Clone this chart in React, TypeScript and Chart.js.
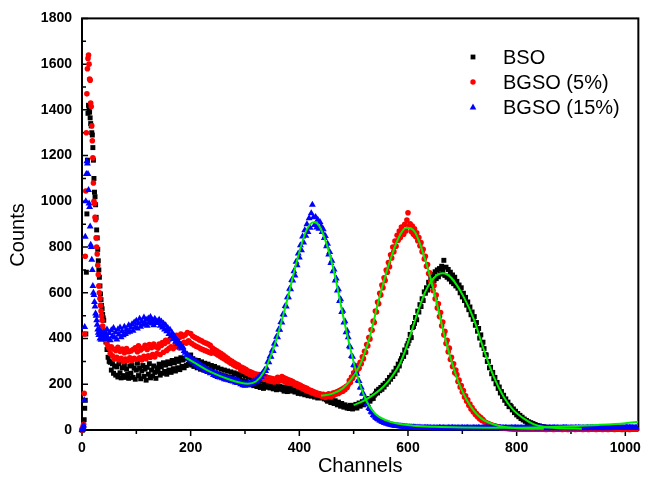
import React, { useEffect, useRef } from "react";
import { Chart, registerables } from "chart.js";

Chart.register(...registerables);

// ---- channel grid (x categories): channels 0..39 one by one, then every 2 channels 40..1020
const EARLY_CHANNELS: number[] = Array.from({ length: 40 }, (_, i) => i);
const MAIN_CHANNELS: number[] = Array.from({ length: 491 }, (_, i) => 40 + 2 * i);
const CHANNELS: number[] = [...EARLY_CHANNELS, ...MAIN_CHANNELS];

// ---- BSO counts (black squares)
const BSO_COUNTS: number[] = [
  // ch 0..39
  0, 0, 3, 10, 45, 95, 130, 420, 690, 945,
  1180, 1385, 1420, 1405, 1390, 1365, 1340, 1330, 1300, 1290,
  1235, 1180, 1100, 1040, 1020, 985, 930, 875, 840, 790,
  740, 700, 668, 630, 595, 570, 545, 530, 505, 490,
  // ch 40..88
  480, 435, 385, 352, 318, 300, 296, 262, 290, 248, 280, 240, 276, 232, 290, 250, 228, 272, 238, 284, 230, 266, 244, 226, 280,
  // ch 90..138
  248, 284, 230, 270, 222, 262, 292, 238, 270, 224, 258, 282, 234, 266, 218, 274, 244, 290, 228, 262, 236, 280, 252, 226, 272,
  // ch 140..188
  256, 288, 240, 276, 248, 294, 256, 284, 244, 298, 262, 290, 252, 304, 268, 294, 258, 310, 272, 300, 264, 316, 278, 306, 272,
  // ch 190..238
  314, 282, 322, 288, 308, 328, 284, 312, 278, 306, 288, 272, 304, 278, 266, 298, 274, 262, 292, 268, 256, 288, 264, 252, 282,
  // ch 240..288
  270, 246, 278, 250, 238, 272, 244, 234, 266, 240, 230, 262, 236, 226, 258, 232, 222, 254, 230, 218, 250, 224, 246, 216, 242,
  // ch 290..338
  234, 212, 242, 216, 208, 236, 212, 202, 232, 206, 198, 228, 202, 194, 222, 200, 190, 218, 194, 186, 214, 192, 182, 210, 188,
  // ch 340..388
  200, 188, 196, 184, 202, 190, 180, 196, 186, 176, 194, 182, 190, 178, 188, 176, 170, 186, 178, 168, 184, 174, 186, 170, 180,
  // ch 390..438
  176, 166, 182, 170, 160, 176, 168, 158, 172, 162, 154, 170, 160, 150, 166, 156, 148, 162, 152, 144, 158, 150, 140, 154, 146,
  // ch 440..488
  150, 140, 146, 136, 144, 132, 126, 140, 128, 120, 134, 122, 116, 128, 118, 110, 122, 112, 104, 116, 108, 100, 110, 102, 96,
  // ch 490..538
  104, 94, 108, 98, 92, 106, 100, 112, 96, 108, 118, 104, 114, 124, 110, 122, 132, 118, 128, 138, 126, 136, 148, 138, 152,
  // ch 540..588
  158, 170, 162, 178, 172, 186, 178, 196, 188, 204, 200, 216, 210, 230, 222, 240, 234, 254, 246, 270, 262, 288, 280, 302, 312,
  // ch 590..638
  328, 322, 350, 340, 368, 378, 392, 418, 404, 448, 452, 466, 492, 482, 520, 516, 548, 540, 574, 566, 604, 598, 622, 612, 646,
  // ch 640..688
  630, 664, 648, 680, 654, 692, 662, 700, 670, 706, 682, 716, 698, 742, 676, 712, 668, 702, 660, 690, 648, 678, 640, 668, 630,
  // ch 690..738
  650, 620, 634, 600, 622, 582, 598, 566, 580, 546, 560, 526, 538, 504, 516, 484, 496, 458, 470, 432, 444, 402, 416, 372, 384,
  // ch 740..788
  356, 330, 328, 300, 300, 272, 274, 246, 252, 224, 230, 202, 208, 182, 188, 162, 168, 146, 152, 130, 136, 116, 122, 102, 108,
  // ch 790..838
  102, 88, 92, 76, 82, 66, 72, 58, 64, 50, 56, 44, 48, 38, 42, 32, 36, 28, 32, 24, 28, 20, 24, 18, 20,
  // ch 840..888
  16, 18, 14, 15, 12, 14, 11, 12, 10, 11, 9, 10, 8, 9, 7, 8, 7, 6, 7, 5, 6, 5, 6, 4, 5,
  // ch 890..938
  4, 3, 5, 3, 4, 2, 4, 3, 5, 3, 4, 2, 3, 4, 3, 5, 2, 4, 3, 3, 4, 2, 3, 4, 3,
  // ch 940..988
  3, 4, 2, 3, 4, 3, 2, 4, 3, 3, 4, 2, 3, 3, 4, 2, 3, 4, 3, 2, 4, 3, 3, 2, 4,
  // ch 990..1020
  3, 2, 4, 3, 3, 2, 4, 3, 2, 3, 4, 3, 2, 3, 3, 4,
];

// ---- BGSO (5%) counts (red circles)
const BGSO5_COUNTS: number[] = [
  // ch 0..39
  0, 5, 15, 25, 160, 420, 760, 1045, 1300, 1470,
  1580, 1625, 1640, 1600, 1535, 1530, 1430, 1415, 1330, 1265,
  1190, 1080, 1000, 990, 930, 920, 840, 800, 770, 720,
  680, 630, 600, 575, 545, 520, 500, 480, 455, 440,
  // ch 40..88
  430, 412, 396, 378, 366, 356, 334, 364, 324, 354, 310, 348, 318, 362, 306, 344, 314, 354, 300, 338, 310, 356, 304, 342, 316,
  // ch 90..138
  346, 304, 352, 314, 360, 308, 342, 368, 316, 350, 306, 358, 322, 370, 312, 352, 324, 374, 318, 360, 330, 376, 320, 364, 334,
  // ch 140..188
  358, 376, 330, 370, 382, 340, 378, 392, 348, 386, 356, 398, 364, 404, 356, 400, 370, 414, 376, 360, 406, 420, 378, 410, 384,
  // ch 190..238
  416, 380, 426, 390, 384, 422, 378, 410, 372, 404, 366, 400, 362, 394, 356, 390, 352, 384, 348, 380, 344, 376, 340, 370, 336,
  // ch 240..288
  358, 340, 352, 334, 346, 328, 340, 322, 334, 316, 328, 310, 320, 304, 314, 298, 306, 292, 300, 286, 294, 280, 288, 276, 284,
  // ch 290..338
  278, 264, 274, 258, 270, 254, 264, 248, 258, 244, 254, 240, 250, 236, 246, 232, 244, 230, 242, 226, 238, 224, 236, 222, 234,
  // ch 340..388
  230, 218, 228, 214, 226, 212, 224, 210, 222, 216, 230, 212, 226, 218, 234, 214, 228, 210, 224, 206, 220, 204, 216, 202, 212,
  // ch 390..438
  206, 196, 204, 192, 200, 188, 196, 184, 190, 178, 186, 174, 182, 170, 176, 166, 172, 162, 168, 158, 164, 156, 160, 152, 158,
  // ch 440..488
  152, 146, 156, 148, 142, 154, 146, 158, 150, 144, 156, 162, 152, 164, 158, 168, 160, 172, 166, 178, 170, 184, 176, 190, 186,
  // ch 490..538
  198, 216, 208, 232, 226, 250, 242, 266, 258, 282, 270, 296, 290, 320, 312, 344, 340, 374, 368, 404, 398, 438, 436, 476, 470,
  // ch 540..588
  520, 516, 560, 552, 598, 590, 634, 622, 666, 654, 700, 690, 732, 714, 766, 752, 800, 780, 826, 804, 852, 830, 870, 842, 888,
  // ch 590..638
  876, 856, 900, 870, 918, 950, 890, 902, 868, 892, 856, 880, 846, 862, 828, 842, 806, 820, 780, 790, 748, 760, 716, 724, 684,
  // ch 640..688
  688, 650, 652, 610, 632, 574, 590, 534, 552, 496, 514, 456, 472, 416, 432, 378, 392, 342, 358, 308, 318, 278, 290, 250, 262,
  // ch 690..738
  242, 212, 218, 188, 194, 166, 172, 144, 150, 126, 132, 108, 114, 92, 98, 80, 84, 68, 72, 58, 62, 48, 54, 42, 46,
  // ch 740..788
  38, 34, 32, 28, 28, 24, 24, 20, 21, 17, 18, 14, 15, 12, 13, 10, 11, 9, 10, 8, 9, 7, 8, 6, 7,
  // ch 790..838
  6, 5, 6, 4, 5, 5, 4, 6, 4, 5, 4, 3, 5, 4, 3, 4, 5, 3, 4, 3, 4, 5, 3, 4, 3,
  // ch 840..888
  4, 3, 5, 3, 4, 3, 4, 2, 4, 3, 5, 3, 3, 4, 2, 4, 3, 4, 3, 5, 3, 4, 2, 3, 4,
  // ch 890..938
  3, 4, 2, 4, 3, 5, 3, 3, 4, 2, 4, 3, 4, 3, 3, 5, 2, 4, 3, 4, 3, 2, 4, 3, 4,
  // ch 940..988
  3, 4, 3, 2, 4, 3, 5, 3, 4, 2, 3, 4, 3, 4, 2, 3, 5, 3, 4, 3, 2, 4, 3, 4, 3,
  // ch 990..1020
  4, 3, 2, 4, 3, 3, 5, 3, 4, 2, 3, 4, 3, 3, 4, 3,
];

// ---- BGSO (15%) counts (blue triangles)
const BGSO15_COUNTS: number[] = [
  // ch 0..39
  0, 5, 10, 20, 130, 450, 845, 1000, 1120, 1175,
  1165, 1120, 1050, 990, 975, 890, 810, 800, 745, 700,
  630, 600, 590, 560, 540, 510, 500, 480, 460, 440,
  425, 415, 440, 400, 420, 395, 425, 405, 415, 400,
  // ch 40..88
  428, 398, 415, 440, 402, 424, 392, 436, 410, 446, 404, 428, 396, 440, 418, 448, 406, 432, 414, 452, 420, 440, 426, 458, 430,
  // ch 90..138
  448, 462, 434, 470, 450, 478, 444, 466, 486, 452, 474, 460, 492, 468, 482, 456, 488, 472, 494, 466, 480, 458, 486, 470, 476,
  // ch 140..188
  468, 482, 456, 474, 448, 466, 440, 458, 432, 446, 420, 438, 410, 424, 398, 410, 386, 396, 376, 386, 364, 372, 356, 362, 346,
  // ch 190..238
  338, 322, 330, 312, 320, 304, 312, 296, 304, 288, 298, 282, 290, 276, 284, 270, 278, 264, 272, 258, 266, 254, 262, 248, 258,
  // ch 240..288
  252, 240, 248, 236, 246, 232, 242, 230, 238, 226, 236, 222, 232, 220, 228, 218, 226, 214, 222, 212, 220, 208, 218, 206, 214,
  // ch 290..338
  210, 200, 206, 196, 204, 194, 202, 196, 206, 198, 204, 210, 202, 214, 208, 220, 214, 228, 222, 238, 232, 248, 244, 262, 258,
  // ch 340..388
  270, 298, 296, 322, 320, 348, 346, 378, 374, 408, 406, 440, 438, 472, 470, 506, 504, 542, 540, 580, 580, 618, 616, 656, 654,
  // ch 390..438
  694, 676, 736, 720, 772, 754, 808, 786, 846, 820, 874, 850, 900, 866, 926, 884, 948, 985, 930, 896, 932, 886, 920, 880, 910,
  // ch 440..488
  892, 866, 878, 840, 848, 804, 814, 768, 778, 730, 740, 694, 702, 654, 662, 610, 616, 564, 572, 516, 522, 470, 476, 428, 434,
  // ch 490..538
  406, 366, 362, 324, 320, 284, 282, 248, 246, 216, 214, 186, 186, 160, 158, 136, 134, 114, 112, 96, 92, 80, 76, 66, 62,
  // ch 540..588
  56, 52, 48, 46, 42, 40, 36, 35, 32, 31, 28, 28, 25, 25, 23, 22, 21, 20, 19, 18, 18, 17, 16, 16, 15,
  // ch 590..638
  15, 14, 14, 13, 14, 12, 13, 12, 12, 11, 12, 11, 11, 10, 11, 10, 11, 10, 10, 9, 10, 10, 9, 10, 9,
  // ch 640..688
  9, 10, 8, 9, 10, 8, 9, 9, 8, 10, 9, 8, 9, 10, 8, 9, 8, 10, 9, 8, 9, 10, 8, 9, 9,
  // ch 690..738
  8, 10, 9, 8, 9, 10, 8, 9, 8, 9, 10, 8, 9, 9, 8, 10, 9, 8, 9, 8, 10, 9, 8, 9, 10,
  // ch 740..788
  9, 8, 10, 9, 8, 9, 9, 10, 8, 9, 8, 10, 9, 8, 9, 10, 8, 9, 9, 8, 10, 9, 8, 9, 8,
  // ch 790..838
  10, 9, 8, 9, 10, 8, 9, 9, 8, 10, 9, 8, 9, 10, 8, 9, 8, 10, 9, 9, 8, 10, 9, 8, 9,
  // ch 840..888
  8, 9, 10, 8, 9, 9, 10, 8, 9, 8, 10, 9, 8, 9, 9, 10, 8, 9, 10, 8, 9, 8, 9, 10, 9,
  // ch 890..938
  9, 10, 8, 9, 8, 10, 9, 9, 8, 10, 9, 8, 10, 9, 9, 8, 10, 9, 8, 9, 10, 9, 8, 10, 9,
  // ch 940..988
  10, 9, 8, 10, 9, 9, 10, 8, 9, 10, 9, 8, 10, 9, 10, 9, 8, 10, 9, 10, 9, 11, 9, 10, 10,
  // ch 990..1020
  10, 9, 11, 10, 9, 10, 11, 10, 9, 11, 10, 10, 11, 9, 10, 11,
];

// ---- fitted curves (green lines)
const FIT_BSO_CH: number[] = [500, 520, 540, 555, 570, 585, 595, 613, 631, 649, 664, 679, 703, 722, 740, 758, 776, 794, 812, 831, 849, 879, 920];
const FIT_BSO: number[] = [109, 130, 160, 190, 232, 290, 348, 479, 600, 668, 685, 667, 580, 479, 348, 232, 145, 87, 52, 26, 14, 8, 6];

const FIT_BGSO5_CH: number[] = [440, 460, 480, 495, 510, 520, 530, 546, 565, 583, 597, 613, 631, 649, 667, 678, 691, 709, 734, 764, 800, 850];
const FIT_BGSO5: number[] = [150, 158, 182, 220, 276, 335, 410, 566, 726, 842, 885, 865, 750, 595, 414, 318, 222, 128, 52, 20, 8, 5];

const FIT_BGSO15_CH: number[] = [190, 210, 230, 250, 270, 290, 305, 320, 335, 350, 365, 380, 395, 410, 420, 428, 436, 450, 465, 480, 495, 510, 525, 540, 560, 580, 610, 650, 700, 750, 800, 850, 900, 950, 1000, 1024];
const FIT_BGSO15: number[] = [318, 290, 262, 240, 222, 208, 202, 212, 255, 340, 455, 590, 735, 855, 900, 908, 895, 815, 680, 505, 345, 210, 120, 70, 42, 28, 19, 14, 11, 10, 10, 12, 16, 22, 30, 36];

// ---- axis ticks
const X_TICKS: number[] = [0, 200, 400, 600, 800, 1000];
const X_MINOR_TICKS: number[] = [100, 300, 500, 700, 900];
const Y_TICKS: number[] = [0, 200, 400, 600, 800, 1000, 1200, 1400, 1600, 1800];
const Y_MINOR_TICKS: number[] = [100, 300, 500, 700, 900, 1100, 1300, 1500, 1700];

const SERIES_LABELS: string[] = ["BSO", "BGSO (5%)", "BGSO (15%)"];
const SERIES_COLORS: string[] = ["#000000", "#ff0000", "#0000ff"];
const SERIES_STYLES: string[] = ["rect", "circle", "triangle"];

const FONT = '"Liberation Sans", Arial, Helvetica, sans-serif';

function toPoints(xs: number[], ys: number[]) {
  return ys.map((y, i) => ({ x: xs[i], y }));
}

function drawMarker(ctx: CanvasRenderingContext2D, style: string, x: number, y: number, color: string) {
  ctx.fillStyle = color;
  ctx.beginPath();
  if (style === "rect") {
    ctx.rect(x - 2.4, y - 2.4, 4.8, 4.8);
  } else if (style === "circle") {
    ctx.arc(x, y, 2.7, 0, Math.PI * 2);
  } else {
    ctx.moveTo(x, y - 3.4);
    ctx.lineTo(x + 3.3, y + 2.4);
    ctx.lineTo(x - 3.3, y + 2.4);
    ctx.closePath();
  }
  ctx.fill();
}

const framePlugin = {
  id: "originFrame",
  beforeDatasetsDraw(chart: any) {
    const { ctx, chartArea: a, scales } = chart;
    const xs = scales.x;
    const ys = scales.y;
    ctx.save();
    ctx.strokeStyle = "#000";
    ctx.lineWidth = 2;
    ctx.strokeRect(a.left, a.top, a.right - a.left, a.bottom - a.top);
    ctx.lineWidth = 1.5;
    ctx.beginPath();
    X_TICKS.forEach((v) => {
      const p = xs.getPixelForValue(v);
      ctx.moveTo(p, a.bottom);
      ctx.lineTo(p, a.bottom + 6);
    });
    X_MINOR_TICKS.forEach((v) => {
      const p = xs.getPixelForValue(v);
      ctx.moveTo(p, a.bottom);
      ctx.lineTo(p, a.bottom + 4);
    });
    Y_TICKS.forEach((v) => {
      const p = ys.getPixelForValue(v);
      ctx.moveTo(a.left, p);
      ctx.lineTo(a.left + 6, p);
    });
    Y_MINOR_TICKS.forEach((v) => {
      const p = ys.getPixelForValue(v);
      ctx.moveTo(a.left, p);
      ctx.lineTo(a.left + 4, p);
    });
    ctx.stroke();

    // axis titles
    ctx.fillStyle = "#000";
    ctx.font = `20px ${FONT}`;
    ctx.textAlign = "center";
    ctx.textBaseline = "middle";
    ctx.fillText("Channels", (a.left + a.right) / 2, 466);
    ctx.translate(18, 235);
    ctx.rotate(-Math.PI / 2);
    ctx.fillText("Counts", 0, 0);
    ctx.restore();
  },
  afterDatasetsDraw(chart: any) {
    const { ctx } = chart;
    ctx.save();
    ctx.font = `20px ${FONT}`;
    ctx.textAlign = "left";
    ctx.textBaseline = "middle";
    SERIES_LABELS.forEach((label, i) => {
      const y = 57 + 25 * i;
      drawMarker(ctx, SERIES_STYLES[i], 473, y, SERIES_COLORS[i]);
      ctx.fillStyle = "#000";
      ctx.fillText(label, 503, y + 1);
    });
    ctx.restore();
  },
};

export default function App() {
  const canvasRef = useRef<HTMLCanvasElement | null>(null);

  useEffect(() => {
    const canvas = canvasRef.current;
    if (!canvas) return;
    const seriesData = [BSO_COUNTS, BGSO5_COUNTS, BGSO15_COUNTS];
    const radii = [3.5, 2.8, 4.0];
    const scatterSets = SERIES_LABELS.map((label, i) => ({
      type: "scatter" as const,
      label,
      data: toPoints(CHANNELS, seriesData[i]),
      pointStyle: SERIES_STYLES[i],
      pointRadius: radii[i],
      pointHoverRadius: radii[i],
      backgroundColor: SERIES_COLORS[i],
      borderColor: SERIES_COLORS[i],
      pointBorderWidth: 0,
      borderWidth: 0,
      showLine: false,
      clip: false as any,
      order: 3 - i,
    }));
    const fitStyle = {
      type: "line" as const,
      borderColor: "#00ee00",
      borderWidth: 2,
      pointRadius: 0,
      pointHoverRadius: 0,
      fill: false,
      cubicInterpolationMode: "monotone" as const,
      order: 0,
    };
    const chart = new Chart(canvas, {
      type: "scatter",
      data: {
        datasets: [
          ...scatterSets,
          { ...fitStyle, label: "BSO fit", data: toPoints(FIT_BSO_CH, FIT_BSO) },
          { ...fitStyle, label: "BGSO (5%) fit", data: toPoints(FIT_BGSO5_CH, FIT_BGSO5) },
          { ...fitStyle, label: "BGSO (15%) fit", data: toPoints(FIT_BGSO15_CH, FIT_BGSO15) },
        ] as any,
      },
      options: {
        responsive: false,
        animation: false,
        devicePixelRatio: 1,
        events: [],
        layout: { padding: { top: 16, right: 5, left: 0, bottom: 0 } },
        plugins: {
          legend: { display: false },
          tooltip: { enabled: false },
        },
        scales: {
          x: {
            type: "linear",
            min: 0,
            max: 1024,
            grid: { display: false, drawTicks: false },
            border: { display: false },
            afterFit: (s: any) => {
              s.height = 51;
            },
            afterBuildTicks: (s: any) => {
              s.ticks = X_TICKS.map((v) => ({ value: v }));
            },
            ticks: {
              padding: 10,
              color: "#000",
              autoSkip: false,
              maxRotation: 0,
              font: { family: FONT, size: 14, weight: "bold" },
              callback: (v: any) => String(v),
            },
          },
          y: {
            type: "linear",
            min: 0,
            max: 1800,
            grid: { display: false, drawTicks: false },
            border: { display: false },
            afterFit: (s: any) => {
              s.width = 82;
            },
            afterBuildTicks: (s: any) => {
              s.ticks = Y_TICKS.map((v) => ({ value: v }));
            },
            ticks: {
              padding: 10,
              color: "#000",
              autoSkip: false,
              font: { family: FONT, size: 14, weight: "bold" },
              callback: (v: any) => String(v),
            },
          },
        },
      } as any,
      plugins: [framePlugin],
    });
    return () => chart.destroy();
  }, []);

  return (
    <div style={{ position: "absolute", left: 0, top: 0, width: 651, height: 481, background: "#fff" }}>
      <canvas ref={canvasRef} width={651} height={481} style={{ display: "block" }} />
    </div>
  );
}
